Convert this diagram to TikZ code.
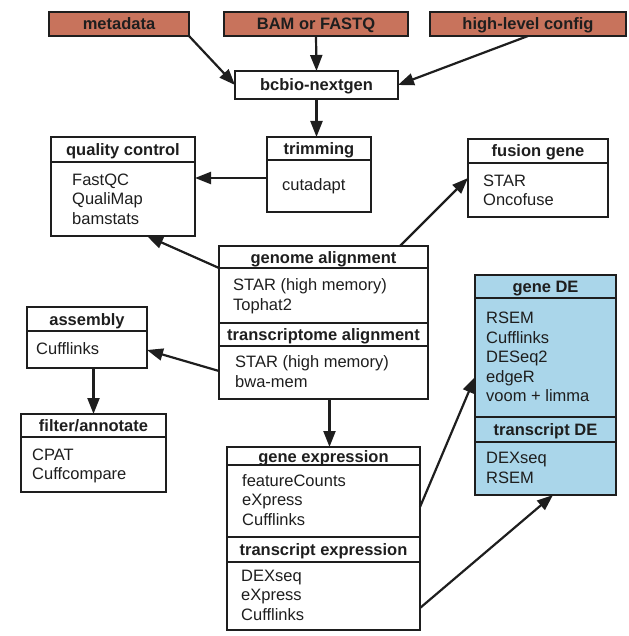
\documentclass[tikz,border=0pt]{standalone}
\usepackage{fontspec}
\setmainfont{Liberation Sans}
\usetikzlibrary{arrows.meta}
\definecolor{inbox}{RGB}{200,115,92}
\definecolor{debox}{RGB}{170,214,234}
\definecolor{ink}{RGB}{30,30,30}
\begin{document}
\begin{tikzpicture}[x=1pt,y=-1pt,
  box/.style={draw=ink, line width=2.2pt, anchor=north west, inner sep=0pt, outer sep=0pt},
  topbox/.style={draw=ink, line width=2.2pt, fill=inbox, inner sep=0pt, outer sep=0pt, text=ink,
    font=\fontsize{16.5}{19.5}\selectfont\bfseries, text height=12pt, text depth=0pt},
  hd/.style={inner sep=0pt, text=ink, font=\fontsize{16.5}{19.5}\selectfont\bfseries, text height=12pt, text depth=0pt},
  body/.style={inner sep=0pt, anchor=west, align=left, text=ink, font=\fontsize{16.5}{19.5}\selectfont},
  sepline/.style={draw=ink, line width=2.2pt},
  arr/.style={draw=ink, line width=2.2pt, -{Triangle[length=16pt,width=12pt]}}
]
\useasboundingbox (0,0) rectangle (628,636);

% inputs
\node[topbox, minimum width=140pt, minimum height=24pt] (meta) at (119,24) {metadata};
\node[topbox, minimum width=184pt, minimum height=24pt] (bam) at (316,24) {BAM or FASTQ};
\node[topbox, minimum width=196pt, minimum height=24pt] (cfg) at (528,24) {high-level config};
\node[topbox, fill=white, minimum width=163pt, minimum height=28pt] (bcbio) at (316.5,85) {bcbio-nextgen};

% quality control
\node[box, minimum width=144pt, minimum height=99pt] (qc) at (51,137) {};
\draw[sepline] (51,162) -- (195,162);
\node[hd] (qc-t) at (123,149.5) {quality control};
\node[body] (qc-b) at (72,201) {\strut FastQC\\\strut QualiMap\\\strut bamstats};

% trimming
\node[box, minimum width=104pt, minimum height=75pt] (trim) at (267,137) {};
\draw[sepline] (267,160) -- (371,160);
\node[hd] (trim-t) at (319,148.5) {trimming};
\node[body] (trim-b) at (282,187) {\strut cutadapt};

% fusion gene
\node[box, minimum width=140pt, minimum height=78pt] (fus) at (468,139) {};
\draw[sepline] (468,163) -- (608,163);
\node[hd] (fus-t) at (538,151) {fusion gene};
\node[body] (fus-b) at (483,192) {\strut STAR\\\strut Oncofuse};

% alignment
\node[box, minimum width=209pt, minimum height=153pt] (ga) at (219,246) {};
\draw[sepline] (219,268) -- (428,268);
\draw[sepline] (219,323) -- (428,323);
\draw[sepline] (219,346) -- (428,346);
\node[hd] (ga-t) at (323.5,257) {genome alignment};
\node[hd] (ta-t) at (323.5,334.5) {transcriptome alignment};
\node[body] (ga-b) at (233,296.5) {\strut STAR (high memory)\\\strut Tophat2};
\node[body] (ta-b) at (235,373.5) {\strut STAR (high memory)\\\strut bwa-mem};

% gene DE
\node[box, fill=debox, minimum width=141pt, minimum height=220pt] (gde) at (475,275) {};
\draw[sepline] (475,298) -- (616,298);
\draw[sepline] (475,417) -- (616,417);
\draw[sepline] (475,442) -- (616,442);
\node[hd] (gde-t) at (545.5,286.5) {gene DE};
\node[hd] (tde-t) at (545.5,429.5) {transcript DE};
\node[body] (gde-b) at (486,359) {\strut RSEM\\\strut Cufflinks\\\strut DESeq2\\\strut edgeR\\\strut voom + limma};
\node[body] (tde-b) at (486,469.5) {\strut DEXseq\\\strut RSEM};

% assembly
\node[box, minimum width=120pt, minimum height=61pt] (asm) at (27,307) {};
\draw[sepline] (27,331) -- (147,331);
\node[hd] (asm-t) at (87,319) {assembly};
\node[body] (asm-b) at (36,350.5) {\strut Cufflinks};

% filter/annotate
\node[box, minimum width=145pt, minimum height=78pt] (filt) at (21,414) {};
\draw[sepline] (21,437) -- (166,437);
\node[hd] (filt-t) at (93.5,425.5) {filter/annotate};
\node[body] (filt-b) at (32,466) {\strut CPAT\\\strut Cuffcompare};

% expression
\node[box, minimum width=193pt, minimum height=183pt] (gex) at (227,447) {};
\draw[sepline] (227,465) -- (420,465);
\draw[sepline] (227,537) -- (420,537);
\draw[sepline] (227,562) -- (420,562);
\node[hd] (gex-t) at (323.5,456) {gene expression};
\node[hd] (tex-t) at (323.5,549.5) {transcript expression};
\node[body] (gex-b) at (242,502) {\strut featureCounts\\\strut eXpress\\\strut Cufflinks};
\node[body] (tex-b) at (241,597) {\strut DEXseq\\\strut eXpress\\\strut Cufflinks};

% connectors
\draw[arr] (meta.south east) -- (bcbio.west);
\draw[arr] (bam.south) -- (bcbio.north);
\draw[arr] (cfg.south) -- (bcbio.east);
\draw[arr] (bcbio.south) -- (bcbio.south |- trim.north);
\coordinate (tq) at ([yshift=-3.5pt]trim.west);
\draw[arr] (tq) -- (tq -| qc.east);
\draw[arr] ([yshift=-22pt]ga.north west) -- ([xshift=24pt]qc.south);
\draw[arr] ([xshift=-28pt]ga.north east) -- (fus.west);
\draw[arr] ([yshift=28pt]ga.south west) -- ([yshift=-12.5pt]asm.east);
\draw[arr] (filt.north |- asm.south) -- (filt.north);
\draw[arr] ([xshift=6pt]ga.south) -- ([xshift=6pt]gex.north);
\draw[arr] ([yshift=31.5pt]gex.east) -- ([yshift=8pt]gde.west);
\draw[arr] ([yshift=22pt]gex.south east) -- ([xshift=7.5pt]gde.south);
\end{tikzpicture}
\end{document}
